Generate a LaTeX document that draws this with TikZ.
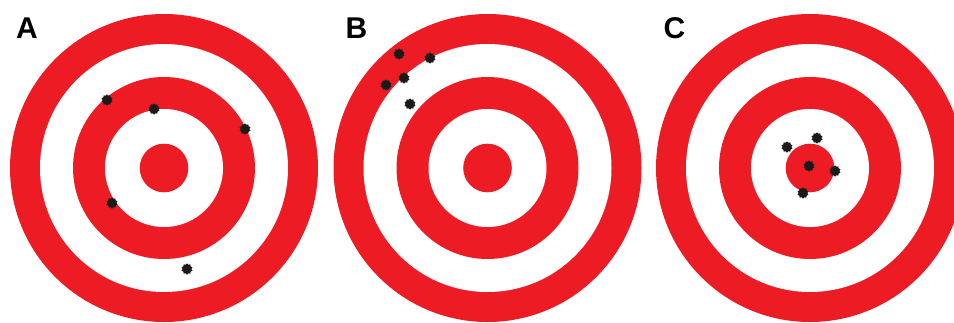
\documentclass[tikz,border=0pt]{standalone}
\usepackage{fontspec}
\setmainfont{Liberation Sans}
\usepackage{tikz}
\usetikzlibrary{shapes.geometric}
\usepackage{xcolor}
\definecolor{tred}{RGB}{237,28,36}
\definecolor{holeblack}{RGB}{26,26,26}

\begin{document}
\begin{tikzpicture}[
    x=1pt, y=-1pt,
    hole/.style={star, star points=10, star point ratio=1.3, minimum size=11.5pt,
                 inner sep=0pt, fill=holeblack, draw=none},
    lab/.style={inner sep=0pt, font=\fontsize{30}{30}\selectfont\bfseries}
]
\useasboundingbox (0,0) rectangle (954,322);
\clip (0,0) rectangle (954,322);

%% ---- Zielscheiben ----
\foreach \cx in {164,487.5,810}{
  \fill[tred]  (\cx,168) circle (154pt);
  \fill[white] (\cx,168) circle (124pt);
  \fill[tred]  (\cx,168) circle (91pt);
  \fill[white] (\cx,168) circle (59pt);
  \fill[tred]  (\cx,168) circle (24.3pt);
}

%% ---- Beschriftung ----
\node[lab] (labA) at (27,28)    {A};
\node[lab] (labB) at (356.5,28) {B};
\node[lab] (labC) at (674.5,28) {C};

%% ---- A: verstreut ----
\node[hole] (a1) at (107,100) {};
\node[hole] (a2) at (154,109) {};
\node[hole] (a3) at (245,129) {};
\node[hole] (a4) at (112,203) {};
\node[hole] (a5) at (187,269) {};

%% ---- B: eng, aber daneben ----
\node[hole] (b1) at (399,54)  {};
\node[hole] (b2) at (430,58)  {};
\node[hole] (b3) at (404,78)  {};
\node[hole] (b4) at (386,85)  {};
\node[hole] (b5) at (410,104) {};

%% ---- C: eng und mittig ----
\node[hole] (c1) at (787,147) {};
\node[hole] (c2) at (817,138) {};
\node[hole] (c3) at (809,166) {};
\node[hole] (c4) at (835,171) {};
\node[hole] (c5) at (803,193) {};

\end{tikzpicture}
\end{document}
